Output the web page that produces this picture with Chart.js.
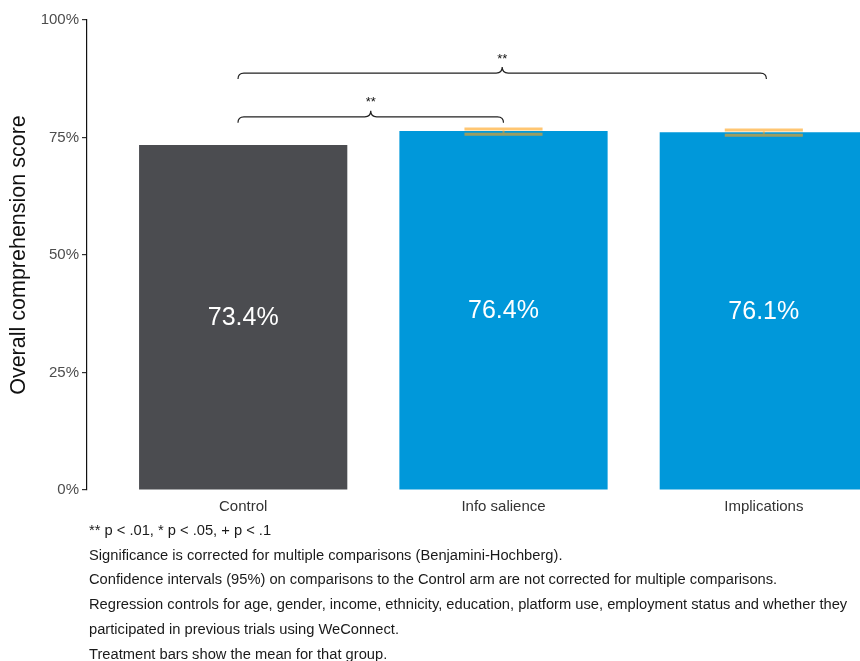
<!DOCTYPE html>
<html>
<head>
<meta charset="utf-8">
<script src="https://cdn.jsdelivr.net/npm/chart.js@4"></script>
<style>
  html, body { margin: 0; padding: 0; background: #fff; }
  #wrap { position: relative; width: 860px; height: 661px; overflow: hidden; }
  #chart { position: absolute; left: 0; top: 0; }
  #caption {
    position: absolute; left: 89px; top: 518px;
    font-family: "Liberation Sans", Arial, sans-serif;
    font-size: 14.7px; line-height: 24.7px; color: #1a1a1a;
    white-space: nowrap;
  }
</style>
</head>
<body>
<div id="wrap">
  <canvas id="chart" width="930" height="520"></canvas>
  <div id="caption"></div>
</div>
<script>
// Dados do gráfico
const categories = ['Control', 'Info salience', 'Implications'];
const scores = [73.4, 76.4, 76.1];
const ciLow = [null, 75.7, 75.5];
const ciHigh = [null, 76.8, 76.6];
const barColors = ['#4b4c50', '#0098da', '#0098da'];
const yTicks = [0, 25, 50, 75, 100];

// Chaves de significância (de, até, altura em %, rótulo)
const bracketFrom = [0.98, 0.98];
const bracketTo = [2.0, 3.01];
const bracketHeight = [79.4, 88.7];
const bracketLabel = ['**', '**'];

const captionLines = [
  '** p < .01, * p < .05, + p < .1',
  'Significance is corrected for multiple comparisons (Benjamini-Hochberg).',
  'Confidence intervals (95%) on comparisons to the Control arm are not corrected for multiple comparisons.',
  'Regression controls for age, gender, income, ethnicity, education, platform use, employment status and whether they',
  'participated in previous trials using WeConnect.',
  'Treatment bars show the mean for that group.'
];

document.getElementById('caption').innerHTML = captionLines
  .map(l => '<div>' + l.replace(/</g, '&lt;') + '</div>').join('');

const FONT = '"Liberation Sans", Arial, sans-serif';

// Rótulos de valor dentro das barras
const valueLabels = {
  id: 'valueLabels',
  afterDatasetsDraw(chart) {
    const ctx = chart.ctx;
    const meta = chart.getDatasetMeta(0);
    ctx.save();
    ctx.fillStyle = '#ffffff';
    ctx.font = '25px ' + FONT;
    ctx.textAlign = 'center';
    ctx.textBaseline = 'middle';
    meta.data.forEach((bar, i) => {
      const y = (bar.y + bar.base) / 2;
      ctx.fillText(scores[i].toFixed(1) + '%', bar.x, y + 1);
    });
    ctx.restore();
  }
};

// Barras de erro (IC 95%)
const errorBars = {
  id: 'errorBars',
  afterDatasetsDraw(chart) {
    const ctx = chart.ctx;
    const xs = chart.scales.x, ys = chart.scales.y;
    ctx.save();
    ctx.strokeStyle = 'rgba(255, 160, 20, 0.6)';
    ctx.lineCap = 'butt';
    categories.forEach((c, i) => {
      if (ciLow[i] == null) return;
      const xl = xs.getPixelForValue(i + 1 - 0.15);
      const xr = xs.getPixelForValue(i + 1 + 0.15);
      const xc = xs.getPixelForValue(i + 1);
      const yl = ys.getPixelForValue(ciLow[i]);
      const yh = ys.getPixelForValue(ciHigh[i]);
      ctx.lineWidth = 3;
      ctx.beginPath();
      ctx.moveTo(xl, yh); ctx.lineTo(xr, yh);
      ctx.stroke();
      ctx.beginPath();
      ctx.moveTo(xl, yl); ctx.lineTo(xr, yl);
      ctx.stroke();
      ctx.lineWidth = 2;
      ctx.beginPath();
      ctx.moveTo(xc, yh + 1.5); ctx.lineTo(xc, yl - 1.5);
      ctx.stroke();
    });
    ctx.restore();
  }
};

// Chaves de significância
const brackets = {
  id: 'brackets',
  afterDatasetsDraw(chart) {
    const ctx = chart.ctx;
    const xs = chart.scales.x, ys = chart.scales.y;
    ctx.save();
    ctx.strokeStyle = '#222';
    ctx.lineWidth = 1.2;
    ctx.fillStyle = '#111';
    ctx.font = '13px ' + FONT;
    ctx.textAlign = 'center';
    ctx.textBaseline = 'middle';
    bracketLabel.forEach((lab, i) => {
      const x0 = xs.getPixelForValue(bracketFrom[i]);
      const x1 = xs.getPixelForValue(bracketTo[i]);
      const xm = (x0 + x1) / 2;
      const y = ys.getPixelForValue(bracketHeight[i]);
      const h = 6;
      ctx.beginPath();
      ctx.moveTo(x0, y + h);
      ctx.quadraticCurveTo(x0, y, x0 + h, y);
      ctx.lineTo(xm - h, y);
      ctx.quadraticCurveTo(xm, y, xm, y - h);
      ctx.quadraticCurveTo(xm, y, xm + h, y);
      ctx.lineTo(x1 - h, y);
      ctx.quadraticCurveTo(x1, y, x1, y + h);
      ctx.stroke();
      ctx.fillText(lab, xm, y - h - 8);
    });
    ctx.restore();
  }
};

const chart = new Chart(document.getElementById('chart'), {
  type: 'bar',
  data: {
    datasets: [{
      data: scores.map((v, i) => ({ x: i + 1, y: v })),
      backgroundColor: barColors,
      borderWidth: 0,
      categoryPercentage: 1,
      barPercentage: 0.8
    }]
  },
  options: {
    responsive: false,
    animation: false,
    devicePixelRatio: 1,
    layout: { padding: { top: 20, left: 0, right: 10, bottom: 0 } },
    plugins: {
      legend: { display: false },
      tooltip: { enabled: false }
    },
    scales: {
      x: {
        type: 'linear',
        offset: false,
        min: 0.4,
        max: 3.6,
        afterBuildTicks: (s) => { s.ticks = categories.map((c, i) => ({ value: i + 1 })); },
        afterFit: (s) => { s.height = 30; },
        grid: { display: false, drawTicks: false, offset: false },
        border: { display: false },
        ticks: {
          padding: 8,
          color: '#333',
          font: { family: FONT, size: 15 },
          callback: (v) => categories[Math.round(v) - 1]
        }
      },
      y: {
        min: 0,
        max: 100,
        afterBuildTicks: (s) => { s.ticks = yTicks.map(v => ({ value: v })); },
        afterFit: (s) => { s.width = 87; },
        grid: { drawOnChartArea: false, drawTicks: true, tickLength: 5, color: '#333', lineWidth: 1.2 },
        border: { display: true, color: '#111', width: 1.2 },
        ticks: {
          padding: 3,
          color: '#4d4d4d',
          font: { family: FONT, size: 15 },
          callback: (v) => v + '%'
        },
        title: {
          display: true,
          text: 'Overall comprehension score',
          color: '#111',
          font: { family: FONT, size: 21.5 },
          padding: { top: 6, bottom: 0 }
        }
      }
    }
  },
  plugins: [valueLabels, errorBars, brackets]
});
</script>
</body>
</html>
